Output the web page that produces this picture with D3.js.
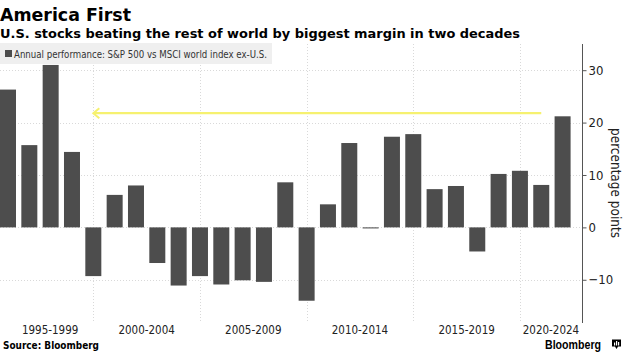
<!DOCTYPE html>
<html>
<head>
<meta charset="utf-8">
<script src="https://cdn.jsdelivr.net/npm/d3@7/dist/d3.min.js"></script>
<style>
  html, body { margin: 0; padding: 0; background: #ffffff; }
  svg { display: block; }
  .cond { font-family: "DejaVu Sans Condensed", "DejaVu Sans", sans-serif; font-stretch: condensed; }
</style>
</head>
<body>
<svg id="chart" width="635" height="363"></svg>
<script>
// ---- Data ----
const years = [1995, 1996, 1997, 1998, 1999, 2000, 2001, 2002, 2003, 2004,
               2005, 2006, 2007, 2008, 2009, 2010, 2011, 2012, 2013, 2014,
               2015, 2016, 2017, 2018, 2019, 2020, 2021];
const values = [26.3, 15.7, 31.0, 14.4, -9.3, 6.2, 8.0, -6.8, -11.1, -9.3,
                -10.9, -10.1, -10.4, 8.6, -14.0, 4.4, 16.1, -0.2, 17.3, 17.8,
                7.3, 7.9, -4.6, 10.2, 10.8, 8.1, 21.2];
const periodStarts = [1995, 2000, 2005, 2010, 2015, 2020];
const periodLabels = ["1995-1999", "2000-2004", "2005-2009", "2010-2014", "2015-2019", "2020-2024"];
const yTicks = [-10, 0, 10, 20, 30];
const arrowFrom = [2021, 21.8];
const arrowTo = [2000, 21.8];

const title = "America First";
const subtitle = "U.S. stocks beating the rest of world by biggest margin in two decades";
const legendLabel = "Annual performance: S&P 500 vs MSCI world index ex-U.S.";
const yTitle = "percentage points";
const source = "Source: Bloomberg";

// ---- Layout ----
const svg = d3.select("#chart");
const plot = { left: 0, right: 582, top: 44, bottom: 323 };
const labelLeft = 7;

const x = d3.scaleLinear().domain([1995.625, 2022.91]).range([plot.left, plot.right]);
const y = d3.scaleLinear().domain([-18.25, 35]).range([plot.bottom, plot.top]);
const barW = 16;

// gridlines (horizontal)
svg.append("g").selectAll("line").data(yTicks).join("line")
  .attr("x1", plot.left).attr("x2", plot.right)
  .attr("y1", d => Math.round(y(d)) + 0.5).attr("y2", d => Math.round(y(d)) + 0.5)
  .attr("stroke", "#d9d9d9").attr("stroke-width", 1).attr("stroke-dasharray", "1,2");

// gridlines (vertical)
svg.append("g").selectAll("line").data(periodStarts.filter(d => x(d) > plot.left)).join("line")
  .attr("x1", d => Math.round(x(d)) + 0.5).attr("x2", d => Math.round(x(d)) + 0.5)
  .attr("y1", plot.top).attr("y2", plot.bottom)
  .attr("stroke", "#d9d9d9").attr("stroke-width", 1).attr("stroke-dasharray", "1,2");

// legend box
const lg = svg.append("g");
lg.append("rect").attr("x", 0).attr("y", 43).attr("width", 272).attr("height", 21).attr("fill", "#efefef");
lg.append("rect").attr("x", 5).attr("y", 50).attr("width", 7).attr("height", 7).attr("fill", "#4d4d4d");
lg.append("text").attr("class", "cond").attr("x", 14).attr("y", 57.5)
  .attr("font-size", 11).attr("fill", "#333")
  .attr("textLength", 253).attr("lengthAdjust", "spacingAndGlyphs")
  .text(legendLabel);

// bars
svg.append("g").selectAll("rect").data(years).join("rect")
  .attr("x", (d) => x(d + 1) - barW / 2)
  .attr("width", barW)
  .attr("y", (d, i) => y(Math.max(0, values[i])))
  .attr("height", (d, i) => Math.max(1, Math.abs(y(values[i]) - y(0))))
  .attr("fill", "#4d4d4d");

// yellow arrow
const ag = svg.append("g");
ag.append("line")
  .attr("x1", x(arrowFrom[0])).attr("y1", y(arrowFrom[1]))
  .attr("x2", x(arrowTo[0]) + 1).attr("y2", y(arrowTo[1]))
  .attr("stroke", "#f6f16f").attr("stroke-width", 2.2);
ag.append("path")
  .attr("d", `M${x(arrowTo[0]) + 6},${y(arrowTo[1]) - 5} L${x(arrowTo[0])},${y(arrowTo[1])} L${x(arrowTo[0]) + 6},${y(arrowTo[1]) + 5}`)
  .attr("fill", "none").attr("stroke", "#f6f16f").attr("stroke-width", 2);

// y axis
const yAxis = d3.axisRight(y).tickValues(yTicks).tickSize(4).tickPadding(2).tickFormat(d3.format("d"));
const yg = svg.append("g").attr("transform", `translate(${plot.right + 0.5},0)`).call(yAxis);
yg.select(".domain").attr("stroke", "#555").attr("d", `M0,${plot.top}V${plot.bottom}`);
yg.selectAll(".tick line").attr("stroke", "#555");
yg.selectAll(".tick text").attr("class", "cond").attr("font-size", 13).attr("fill", "#222");

// y title
svg.append("text").attr("class", "cond")
  .attr("transform", `translate(611,183) rotate(90)`)
  .attr("text-anchor", "middle").attr("font-size", 14.5).attr("fill", "#222")
  .attr("textLength", 110).attr("lengthAdjust", "spacingAndGlyphs")
  .text(yTitle);

// x period labels
svg.append("g").selectAll("text").data(periodStarts).join("text")
  .attr("class", "cond")
  .attr("x", d => (Math.max(x(d), labelLeft) + Math.min(x(d + 5), plot.right)) / 2)
  .attr("y", 334)
  .attr("text-anchor", "middle").attr("font-size", 11.5).attr("fill", "#222")
  .text((d, i) => periodLabels[i]);

// titles
svg.append("text").attr("x", 0).attr("y", 21)
  .attr("font-family", "DejaVu Sans, sans-serif").attr("font-weight", "bold")
  .attr("font-size", 18).attr("fill", "#000")
  .attr("textLength", 131).attr("lengthAdjust", "spacingAndGlyphs")
  .text(title);
svg.append("text").attr("x", 0).attr("y", 38)
  .attr("font-family", "DejaVu Sans, sans-serif").attr("font-weight", "bold")
  .attr("font-size", 13).attr("fill", "#000")
  .attr("textLength", 520).attr("lengthAdjust", "spacingAndGlyphs")
  .text(subtitle);

// source
svg.append("text").attr("x", 3).attr("y", 349)
  .attr("font-family", "DejaVu Sans, sans-serif").attr("font-weight", "bold")
  .attr("font-size", 10).attr("fill", "#000")
  .attr("textLength", 96).attr("lengthAdjust", "spacingAndGlyphs")
  .text(source);

// Bloomberg logo
svg.append("text").attr("x", 545).attr("y", 349)
  .attr("font-family", "Liberation Sans, Arial, sans-serif").attr("font-weight", "bold")
  .attr("font-size", 12.5).attr("fill", "#000")
  .attr("textLength", 56).attr("lengthAdjust", "spacingAndGlyphs")
  .text("Bloomberg");
const lgo = svg.append("g").attr("transform", "translate(612,339.5)");
lgo.append("path").attr("d", "M0,0 H9 V7 H6 L4.5,9.5 L3,7 H0 Z").attr("fill", "#000");
lgo.append("rect").attr("x", 2).attr("y", 3).attr("width", 1.2).attr("height", 3).attr("fill", "#fff");
lgo.append("rect").attr("x", 4).attr("y", 1.5).attr("width", 1.2).attr("height", 4.5).attr("fill", "#fff");
lgo.append("rect").attr("x", 6).attr("y", 2.5).attr("width", 1.2).attr("height", 3.5).attr("fill", "#fff");
</script>
</body>
</html>
